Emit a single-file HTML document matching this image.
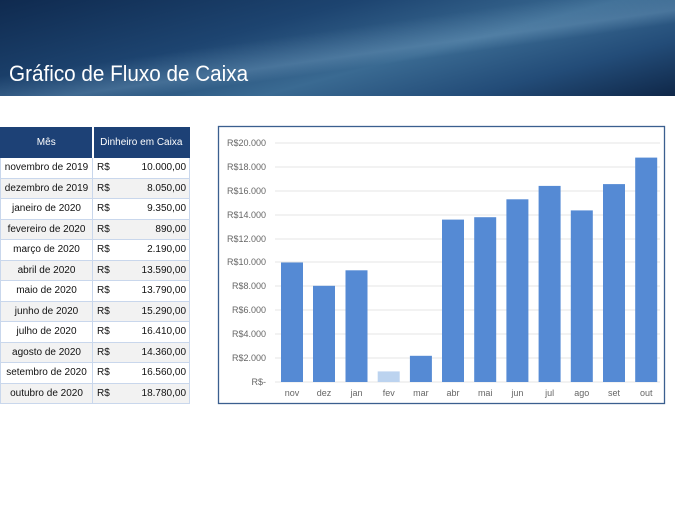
<!DOCTYPE html>
<html><head><meta charset="utf-8"><style>
body{margin:0;width:675px;height:520px;background:#fff;font-family:"Liberation Sans",sans-serif;position:relative;overflow:hidden}
.banner{position:absolute;left:0;top:0;width:675px;height:96px;background:linear-gradient(165deg,#0f2a4f 0%,#1d4470 35%,#3a6a92 60%,#234c78 80%,#0f2748 100%)}
.banner:after{content:"";position:absolute;left:0;top:0;right:0;bottom:0;background:linear-gradient(172deg,transparent 40%,rgba(150,190,220,.25) 55%,transparent 62%)}
.title{position:absolute;left:9px;top:61px;color:#fff;font-size:22px;z-index:2;transform:scaleX(0.94);transform-origin:left}
table{position:absolute;left:0;top:127px;border-collapse:collapse;font-size:10px;color:#111;table-layout:fixed;width:189px;white-space:nowrap}
td,th{height:19.5px;padding:0;border:1px solid #c9d7ec;overflow:hidden}
th{background:#1d4176;color:#fff;font-weight:normal;height:29px;border-color:#1d4176}
td.m{text-align:center}
td.r{text-align:left;padding-left:4px;border-right:none}
td.v{text-align:right;padding-right:3px;border-left:none}
tr:nth-child(odd) td{background:#f2f2f2}
</style></head><body>
<div class="banner"></div><div class="title">Gráfico de Fluxo de Caixa</div>
<table>
<colgroup><col style="width:92px"><col style="width:26px"><col style="width:71px"></colgroup>
<tr><th style="border-right:2px solid #fff">Mês</th><th colspan="2">Dinheiro em Caixa</th></tr>
<tr><td class="m">novembro de 2019</td><td class="r">R$</td><td class="v">10.000,00</td></tr>
<tr><td class="m">dezembro de 2019</td><td class="r">R$</td><td class="v">8.050,00</td></tr>
<tr><td class="m">janeiro de 2020</td><td class="r">R$</td><td class="v">9.350,00</td></tr>
<tr><td class="m">fevereiro de 2020</td><td class="r">R$</td><td class="v">890,00</td></tr>
<tr><td class="m">março de 2020</td><td class="r">R$</td><td class="v">2.190,00</td></tr>
<tr><td class="m">abril de 2020</td><td class="r">R$</td><td class="v">13.590,00</td></tr>
<tr><td class="m">maio de 2020</td><td class="r">R$</td><td class="v">13.790,00</td></tr>
<tr><td class="m">junho de 2020</td><td class="r">R$</td><td class="v">15.290,00</td></tr>
<tr><td class="m">julho de 2020</td><td class="r">R$</td><td class="v">16.410,00</td></tr>
<tr><td class="m">agosto de 2020</td><td class="r">R$</td><td class="v">14.360,00</td></tr>
<tr><td class="m">setembro de 2020</td><td class="r">R$</td><td class="v">16.560,00</td></tr>
<tr><td class="m">outubro de 2020</td><td class="r">R$</td><td class="v">18.780,00</td></tr>
</table>
<svg style="position:absolute;left:0;top:0" width="675" height="520" font-family="Liberation Sans, sans-serif" font-size="9" fill="#666">
<rect x="218.5" y="126.5" width="446" height="277" fill="none" stroke="#3b5f8f" stroke-width="1.3"/>
<g stroke="#e4e4e4">
<line x1="275" x2="660" y1="143" y2="143"/><line x1="275" x2="660" y1="167" y2="167"/><line x1="275" x2="660" y1="191" y2="191"/><line x1="275" x2="660" y1="215" y2="215"/><line x1="275" x2="660" y1="239" y2="239"/><line x1="275" x2="660" y1="262" y2="262"/><line x1="275" x2="660" y1="286" y2="286"/><line x1="275" x2="660" y1="310" y2="310"/><line x1="275" x2="660" y1="334" y2="334"/><line x1="275" x2="660" y1="358" y2="358"/><line x1="275" x2="660" y1="382" y2="382"/>
</g>
<g text-anchor="end">
<text x="266" y="146">R$20.000</text><text x="266" y="170">R$18.000</text><text x="266" y="194">R$16.000</text><text x="266" y="218">R$14.000</text><text x="266" y="242">R$12.000</text><text x="266" y="265">R$10.000</text><text x="266" y="289">R$8.000</text><text x="266" y="313">R$6.000</text><text x="266" y="337">R$4.000</text><text x="266" y="361">R$2.000</text><text x="266" y="385">R$-</text>
</g>
<g fill="#558ad4">
<rect x="281" y="262.5" width="22" height="119.5"/>
<rect x="313" y="285.8" width="22" height="96.2"/>
<rect x="345.5" y="270.3" width="22" height="111.7"/>
<rect x="377.7" y="371.4" width="22" height="10.6" fill="#bcd3ef"/>
<rect x="409.9" y="355.8" width="22" height="26.2"/>
<rect x="442" y="219.6" width="22" height="162.4"/>
<rect x="474.2" y="217.2" width="22" height="164.8"/>
<rect x="506.4" y="199.3" width="22" height="182.7"/>
<rect x="538.6" y="185.9" width="22" height="196.1"/>
<rect x="570.8" y="210.4" width="22" height="171.6"/>
<rect x="603" y="184.1" width="22" height="197.9"/>
<rect x="635.2" y="157.6" width="22" height="224.4"/>
</g>
<g text-anchor="middle">
<text x="292" y="396">nov</text><text x="324" y="396">dez</text><text x="356.5" y="396">jan</text><text x="388.7" y="396">fev</text><text x="420.9" y="396">mar</text><text x="453" y="396">abr</text><text x="485.2" y="396">mai</text><text x="517.4" y="396">jun</text><text x="549.6" y="396">jul</text><text x="581.8" y="396">ago</text><text x="614" y="396">set</text><text x="646.2" y="396">out</text>
</g>
</svg>
</body></html>
